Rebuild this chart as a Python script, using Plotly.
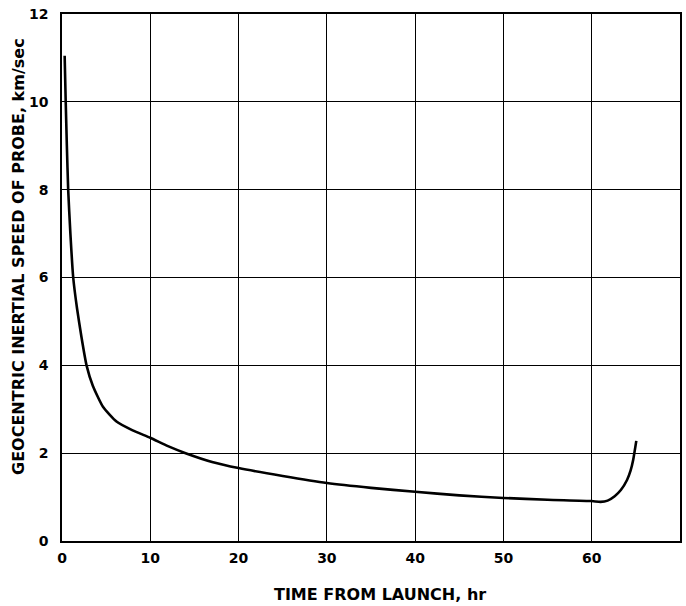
import plotly.graph_objects as go

# Time from launch (hr) and geocentric inertial speed (km/sec) along the trajectory
time_hr = [0.3, 0.42, 0.55, 0.7, 0.95, 1.27, 1.7, 2.2, 2.78, 3.5, 4.66, 6.17,
           8.0, 10.0, 12.0, 14.0, 17.0, 20.0, 25.0, 30.0, 35.0, 40.0, 45.0,
           50.0, 55.0, 60.0, 61.0, 61.8, 62.6, 63.3, 64.0, 64.4, 64.7, 65.05]
speed_kms = [11.05, 10.0, 9.0, 8.0, 7.0, 6.0, 5.3, 4.65, 4.0, 3.53, 3.05, 2.72,
             2.52, 2.35, 2.16, 2.0, 1.8, 1.66, 1.48, 1.32, 1.21, 1.12, 1.04,
             0.98, 0.94, 0.91, 0.89, 0.92, 1.02, 1.16, 1.39, 1.6, 1.85, 2.28]

x_ticks = [0, 10, 20, 30, 40, 50, 60, 70]
y_ticks = [0, 2, 4, 6, 8, 10, 12]

x_title = "TIME FROM LAUNCH, hr"
y_title = "GEOCENTRIC INERTIAL SPEED OF PROBE, km/sec"

font_family = "DejaVu Sans, Liberation Sans, sans-serif"
W, H = 686, 606
M_L, M_R, M_T, M_B = 62, 4, 14, 65

fig = go.Figure()
fig.add_trace(go.Scatter(
    x=time_hr, y=speed_kms, mode="lines",
    line=dict(color="black", width=2.6, shape="spline", smoothing=0.5),
    hoverinfo="skip", showlegend=False,
))

axis_common = dict(
    showgrid=True, gridcolor="black", gridwidth=1,
    showline=True, linecolor="black", linewidth=1.6, mirror=True,
    zeroline=False, ticks="",
    tickfont=dict(family=font_family, size=14, color="black", weight="bold"),
)

title_font = dict(family=font_family, size=16, color="black", weight="bold")

# Axis titles placed as paper-anchored text, offset in pixels from the plot frame
fig.add_annotation(
    text=x_title, xref="paper", yref="paper", x=(381 - M_L) / (W - M_L - M_R), y=0,
    yshift=-(594 - (H - M_B)), showarrow=False, font=title_font,
    xanchor="center", yanchor="middle",
)
fig.add_annotation(
    text=y_title, xref="paper", yref="paper", x=0, y=((H - M_B) - 257) / (H - M_T - M_B),
    xshift=-(M_L - 18), textangle=-90, showarrow=False, font=title_font,
    xanchor="center", yanchor="middle",
)

fig.update_layout(
    width=W, height=H,
    margin=dict(l=M_L, r=M_R, t=M_T, b=M_B),
    paper_bgcolor="white", plot_bgcolor="white",
    font=dict(family=font_family, color="black"),
    xaxis=dict(range=[0, 70], tickvals=x_ticks, ticklabelstandoff=3, **axis_common),
    yaxis=dict(range=[0, 12], tickvals=y_ticks, ticklabelstandoff=9, **axis_common),
)

fig.write_html("out.html")
